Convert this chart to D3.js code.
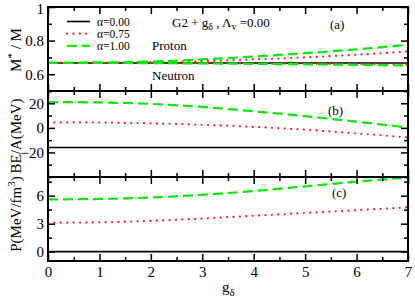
<!DOCTYPE html>
<html><head><meta charset="utf-8">
<script src="https://cdn.jsdelivr.net/npm/d3@7"></script>
<style>body{margin:0;background:#fff}svg{display:block}</style>
</head><body><svg id="c" width="415" height="300"></svg>
<script>
const gd = [0,1,2,3,4,5,6,7];
const alphas = ["α=0.00","α=0.75","α=1.00"];
// panel (a) effective mass
const mProton00 = [0.667,0.667,0.667,0.667,0.667,0.667,0.667,0.667];
const mProton075 = [0.667,0.668,0.672,0.678,0.688,0.700,0.716,0.735];
const mProton100 = [0.667,0.669,0.675,0.688,0.705,0.725,0.748,0.775];
const mNeutron075 = [0.667,0.667,0.666,0.665,0.664,0.662,0.660,0.657];
const mNeutron100 = [0.667,0.667,0.666,0.664,0.662,0.659,0.656,0.652];
// panel (b) binding energy
const be00 = [-16,-16,-16,-16,-16,-16,-16,-16];
const be075 = [4.5,4.3,3.7,2.5,0.8,-1.5,-4.5,-7.8];
const be100 = [21,20.7,19.5,17,13.5,9.5,5,0.3];
// panel (c) pressure
const p00 = [0,0,0,0,0,0,0,0];
const p075 = [3.1,3.15,3.3,3.55,3.85,4.15,4.45,4.75];
const p100 = [5.6,5.65,5.8,6.1,6.5,7.0,7.5,7.95];
const xTicks = [0,1,2,3,4,5,6,7];
const aTicks = [0.6,0.8,1];
const bTicks = [-20,0,20];
const cTicks = [0,3,6];

const FF = "Liberation Serif";
const svg = d3.select("#c").style("font-family",FF);
const L=48, R=408;
const x = d3.scaleLinear().domain([0,7]).range([L,R]);
const styles = [
  {stroke:"#000", w:1.6, dash:null, cap:"butt"},
  {stroke:"#ff2020", w:2.2, dash:"0.1,6.3", cap:"round"},
  {stroke:"#00ee00", w:2.2, dash:"10,5", cap:"butt"}
];
const intFmt = d=>d<0?"\u2212"+Math.abs(d):String(d);
const panels = [
  {top:7, bot:91, dom:[0.5,1], major:aTicks, minor:d3.range(0.5,1.001,0.1), fmt:d=>d===1?"1":d.toFixed(1),
   series:[[mProton00,0],[mProton075,1],[mProton100,2],[mNeutron075,1],[mNeutron100,2]]},
  {top:91, bot:177, dom:[-40,30], major:bTicks, minor:d3.range(-40,30.1,10), fmt:intFmt,
   series:[[be00,0],[be075,1],[be100,2]]},
  {top:177, bot:261, dom:[-1,8], major:cTicks, minor:[-1.5,1.5,4.5,7.5], fmt:intFmt,
   series:[[p00,0],[p075,1],[p100,2]]}
];
panels.forEach((p,i)=>{
  const y = d3.scaleLinear().domain(p.dom).range([p.bot,p.top]);
  const g = svg.append("g");
  const clip = "clip"+i;
  svg.append("clipPath").attr("id",clip).append("rect").attr("x",L).attr("y",p.top).attr("width",R-L).attr("height",p.bot-p.top);
  const line = d3.line().x((d,j)=>x(gd[j])).y(d=>y(d)).curve(d3.curveMonotoneX);
  const lg = g.append("g").attr("clip-path",`url(#${clip})`);
  p.series.forEach(([arr,si])=>{
    const s=styles[si];
    lg.append("path").attr("d",line(arr)).attr("fill","none").attr("stroke",s.stroke)
      .attr("stroke-width",s.w).attr("stroke-dasharray",s.dash).attr("stroke-linecap",s.cap);
  });
  const minorY = p.minor.filter(v=>v>=p.dom[0]-1e-9 && v<=p.dom[1]+1e-9 && !p.major.some(m=>Math.abs(m-v)<1e-9));
  g.append("g").attr("transform",`translate(${L},0)`)
    .call(d3.axisLeft(y).tickValues(p.major).tickFormat(p.fmt).tickSizeInner(-7).tickSizeOuter(0).tickPadding(4));
  g.append("g").attr("transform",`translate(${L},0)`)
    .call(d3.axisLeft(y).tickValues(minorY).tickFormat("").tickSizeInner(-4).tickSizeOuter(0));
  g.append("g").attr("transform",`translate(${R},0)`)
    .call(d3.axisRight(y).tickValues(p.major).tickFormat("").tickSizeInner(-7).tickSizeOuter(0));
  g.append("g").attr("transform",`translate(${R},0)`)
    .call(d3.axisRight(y).tickValues(minorY).tickFormat("").tickSizeInner(-4).tickSizeOuter(0));
  const xMinor = d3.range(0.5,7,1);
  g.append("g").attr("transform",`translate(0,${p.bot})`)
    .call(d3.axisBottom(x).tickValues(xTicks).tickFormat(i===2?intFmt:"").tickSizeInner(-7).tickSizeOuter(0).tickPadding(5));
  g.append("g").attr("transform",`translate(0,${p.bot})`)
    .call(d3.axisBottom(x).tickValues(xMinor).tickFormat("").tickSizeInner(-4).tickSizeOuter(0));
  g.append("g").attr("transform",`translate(0,${p.top})`)
    .call(d3.axisTop(x).tickValues(xTicks).tickFormat("").tickSizeInner(-7).tickSizeOuter(0));
  g.append("g").attr("transform",`translate(0,${p.top})`)
    .call(d3.axisTop(x).tickValues(xMinor).tickFormat("").tickSizeInner(-4).tickSizeOuter(0));
  g.selectAll(".domain").remove();
  g.selectAll("g").attr("font-family",null).attr("font-size",null);
  g.selectAll(".tick line").attr("stroke","#000").attr("stroke-width",1.5);
  g.selectAll(".tick text").style("font-size","15px").attr("fill","#000");
  if(i===0) g.selectAll(".tick text").filter(d=>d===1).attr("dy","0.45em");
  g.append("rect").attr("x",L).attr("y",p.top).attr("width",R-L).attr("height",p.bot-p.top)
    .attr("fill","none").attr("stroke","#000").attr("stroke-width",2);
});
const txt = (xx,yy,fs)=>svg.append("text").attr("x",xx).attr("y",yy).style("font-size",fs+"px");
// y labels
const ylab = (cy, build) => {
  const t = svg.append("text").attr("transform",`translate(21,${cy}) rotate(-90)`).attr("text-anchor","middle").style("font-size","15px");
  build(t);
};
ylab(50,t=>{t.append("tspan").text("M");t.append("tspan").attr("dy",-6).style("font-size","11px").text("*");t.append("tspan").attr("dy",6).text(" / M");});
ylab(136,t=>t.text("BE/A(MeV)"));
ylab(214,t=>{t.append("tspan").text("P(MeV/fm");t.append("tspan").attr("dy",-6).style("font-size","11px").text("3");t.append("tspan").attr("dy",6).text(")");});
// x label
const xl = txt(222,292,15);
xl.append("tspan").text("g");
xl.append("tspan").attr("dy",4).style("font-size","11px").text("δ");
// legend
alphas.forEach((a,i)=>{
  const yy = 21.5 + i*12.2, s=styles[i];
  svg.append("line").attr("x1",67).attr("x2",90).attr("y1",yy).attr("y2",yy).attr("stroke",s.stroke)
    .attr("stroke-width",s.w).attr("stroke-dasharray",s.dash).attr("stroke-linecap",s.cap);
  txt(97,yy+4,11.5).text(a);
});
const tt = txt(172,27,13);
tt.append("tspan").text("G2 + g");
tt.append("tspan").attr("dy",3).style("font-size","10px").text("δ");
tt.append("tspan").attr("dy",-3).text(" , Λ");
tt.append("tspan").attr("dy",3).style("font-size","10px").text("v");
tt.append("tspan").attr("dy",-3).text(" =0.00");
txt(330,29,13).text("(a)");
txt(152,50,13).text("Proton");
txt(152,80,13).text("Neutron");
txt(328,115,13).text("(b)");
txt(332,197,13).text("(c)");
</script></body></html>
